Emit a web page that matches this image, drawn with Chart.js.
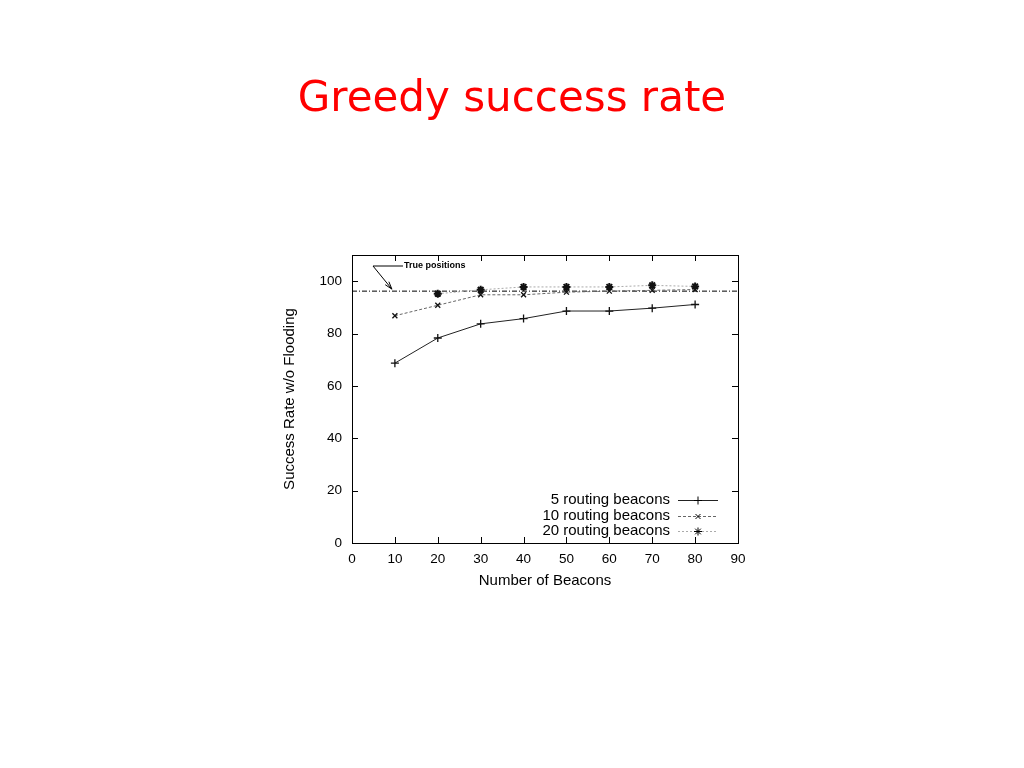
<!DOCTYPE html>
<html>
<head>
<meta charset="utf-8">
<script src="https://cdn.jsdelivr.net/npm/chart.js@4/dist/chart.umd.min.js"></script>
<style>
  html, body { margin:0; padding:0; background:#fff; }
  #wrap { position:relative; width:1024px; height:768px; }
  #title { position:absolute; left:0; top:67px; width:1024px; text-align:center;
           font-family:"Comic Sans MS","DejaVu Sans",sans-serif; font-size:42px; color:#ff0000; line-height:60px; }
  canvas { position:absolute; left:0; top:0; }
</style>
</head>
<body>
<div id="wrap">
  <canvas id="c" width="1024" height="768"></canvas>
  <div id="title">Greedy success rate</div>
</div>
<script>
// ---- data ----
const beacons = [10, 20, 30, 40, 50, 60, 70, 80];
const seriesLabels = ["5 routing beacons", "10 routing beacons", "20 routing beacons"];
const routing5  = [68.7, 78.3, 83.7, 85.7, 88.6, 88.6, 89.7, 91.1];
const routing10 = [86.8, 90.8, 94.8, 94.8, 95.8, 96.2, 96.5, 96.8];
const routing20 = [null, 95.2, 96.7, 97.8, 97.8, 97.8, 98.4, 98.0];
const truePositions = [96.2];
const truePosLabel = "True positions";
const xTicks = [0, 10, 20, 30, 40, 50, 60, 70, 80, 90];
const yTicks = [0, 20, 40, 60, 80, 100];
const xRange = [0, 90];
const yRange = [0, 110];

function pts(arr) {
  return beacons.map((b, i) => ({ x: b, y: arr[i] })).filter(p => p.y !== null);
}

const styles = [
  { color: '#222', dash: [], point: 'cross', radius: 4 },
  { color: '#666', dash: [3, 2], point: 'crossRot', radius: 3.5 },
  { color: '#aaa', dash: [2, 2], point: 'star', radius: 4 }
];

const datasets = [routing5, routing10, routing20].map((arr, i) => ({
  label: seriesLabels[i],
  data: pts(arr),
  borderColor: styles[i].color,
  borderWidth: 1,
  borderDash: styles[i].dash,
  pointStyle: styles[i].point,
  pointRadius: styles[i].radius,
  pointBorderColor: '#111',
  pointBorderWidth: i === 2 ? 2 : 1.3,
  pointBackgroundColor: '#111',
  tension: 0,
  fill: false
}));
datasets.push({
  label: truePosLabel,
  data: [{ x: xRange[0], y: truePositions[0] }, { x: xRange[1], y: truePositions[0] }],
  borderColor: '#000',
  borderWidth: 1,
  borderDash: [5, 2, 1, 2],
  pointRadius: 0,
  fill: false
});

const tickFont = { family: 'Liberation Sans, Arial, sans-serif', size: 13.5 };
const axisTitleFont = { family: 'Liberation Sans, Arial, sans-serif', size: 15 };

const framePlugin = {
  id: 'frame',
  afterDatasetsDraw(chart) {
    const ctx = chart.ctx, a = chart.chartArea;
    const xs = chart.scales.x, ys = chart.scales.y;
    ctx.save();
    ctx.strokeStyle = '#000';
    ctx.lineWidth = 1;
    ctx.setLineDash([]);
    ctx.strokeRect(Math.round(a.left) + 0.5, Math.round(a.top) + 0.5,
                   Math.round(a.right - a.left), Math.round(a.bottom - a.top));
    const L = 6;
    ctx.beginPath();
    xTicks.forEach(v => {
      const px = Math.round(xs.getPixelForValue(v)) + 0.5;
      ctx.moveTo(px, a.bottom); ctx.lineTo(px, a.bottom - L);
      ctx.moveTo(px, a.top); ctx.lineTo(px, a.top + L);
    });
    yTicks.forEach(v => {
      const py = Math.round(ys.getPixelForValue(v)) + 0.5;
      ctx.moveTo(a.left, py); ctx.lineTo(a.left + L, py);
      ctx.moveTo(a.right, py); ctx.lineTo(a.right - L, py);
    });
    ctx.stroke();

    // True positions annotation
    const tx = xs.getPixelForValue(beacons[0]);
    const ty = ys.getPixelForValue(truePositions[0]);
    const lx = a.left + 21, ly = a.top + 11;
    ctx.beginPath();
    ctx.moveTo(lx + 30, ly); ctx.lineTo(lx, ly); ctx.lineTo(tx - 3, ty - 2);
    ctx.stroke();
    const ang = Math.atan2(ty - 2 - ly, tx - 3 - lx);
    ctx.beginPath();
    ctx.moveTo(tx - 3, ty - 2);
    ctx.lineTo(tx - 3 - 8 * Math.cos(ang - 0.3), ty - 2 - 8 * Math.sin(ang - 0.3));
    ctx.moveTo(tx - 3, ty - 2);
    ctx.lineTo(tx - 3 - 8 * Math.cos(ang + 0.3), ty - 2 - 8 * Math.sin(ang + 0.3));
    ctx.stroke();
    ctx.fillStyle = '#000';
    ctx.font = 'bold 9px Liberation Sans, Arial, sans-serif';
    ctx.textBaseline = 'middle';
    ctx.textAlign = 'left';
    ctx.fillText(truePosLabel, lx + 31, ly);

    // Legend (gnuplot style: text then sample)
    ctx.font = '15px Liberation Sans, Arial, sans-serif';
    ctx.textAlign = 'right';
    const rows = [a.bottom - 43, a.bottom - 27, a.bottom - 12];
    for (let i = 0; i < 3; i++) {
      const ds = chart.data.datasets[i];
      const y = rows[i];
      ctx.fillStyle = '#000';
      ctx.fillText(ds.label, a.right - 68, y);
      ctx.save();
      ctx.strokeStyle = ds.borderColor;
      ctx.setLineDash(ds.borderDash);
      ctx.beginPath();
      ctx.moveTo(a.right - 60, y + 0.5); ctx.lineTo(a.right - 20, y + 0.5);
      ctx.stroke();
      ctx.restore();
      Chart.helpers.drawPoint(ctx, {
        pointStyle: ds.pointStyle, radius: ds.pointRadius, borderWidth: ds.pointBorderWidth, rotation: 0
      }, a.right - 40, y + 0.5);
    }
    ctx.restore();
  }
};

const chart = new Chart(document.getElementById('c'), {
  type: 'line',
  data: { datasets },
  options: {
    responsive: false,
    animation: false,
    layout: { padding: { left: 280, right: 286, top: 255, bottom: 175 } },
    plugins: { legend: { display: false }, tooltip: { enabled: false }, title: { display: false } },
    scales: {
      x: {
        type: 'linear', min: xRange[0], max: xRange[1],
        afterBuildTicks: s => { s.ticks = xTicks.map(v => ({ value: v })); },
        afterFit: s => { s.height = 50; },
        grid: { display: false, drawTicks: false },
        border: { display: false },
        ticks: { color: '#000', font: tickFont, padding: 8, maxRotation: 0 },
        title: { display: true, text: 'Number of Beacons', color: '#000', font: axisTitleFont, padding: { top: 4, bottom: 3 } }
      },
      y: {
        type: 'linear', min: yRange[0], max: yRange[1],
        afterBuildTicks: s => { s.ticks = yTicks.map(v => ({ value: v })); },
        afterFit: s => { s.width = 72; },
        grid: { display: false, drawTicks: false },
        border: { display: false },
        ticks: { color: '#000', font: tickFont, padding: 10 },
        title: { display: true, text: 'Success Rate w/o Flooding', color: '#000', font: axisTitleFont, padding: { top: 1, bottom: 1 } }
      }
    }
  },
  plugins: [framePlugin]
});
</script>
</body>
</html>
